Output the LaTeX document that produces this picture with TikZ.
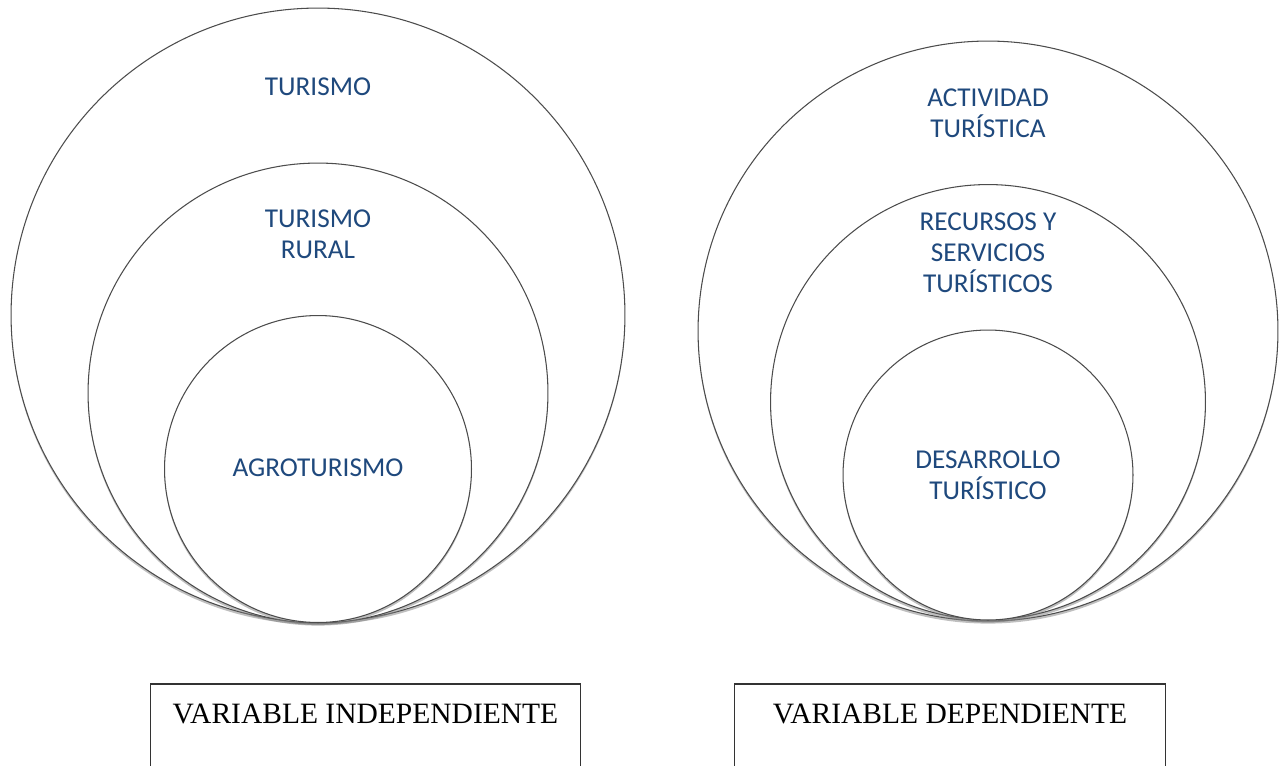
\documentclass[tikz,border=0pt]{standalone}
\usepackage{fontspec}
\setmainfont{Liberation Serif}
\newfontfamily\calibri{Carlito}
\usepackage{xcolor}
\usetikzlibrary{shapes, shadows, positioning}

\definecolor{txtblue}{RGB}{31,73,125}

\tikzset{
    ring/.style={draw=black!70, line width=0.6pt, circle, fill=white, inner sep=0pt,
        drop shadow={shadow xshift=0pt, shadow yshift=-1.5pt, opacity=0.5}},
    lbl/.style={font=\calibri\fontsize{15.5}{17.5}\selectfont, text=txtblue, align=center},
    varbox/.style={draw=black!80, line width=0.6pt, inner sep=0pt, minimum width=8.62cm,
        text height=0.78cm, text depth=1.3cm, font=\fontsize{16.8}{19}\selectfont}
}

\begin{document}
\begin{tikzpicture}[x=0.02cm, y=-0.02cm]
                \useasboundingbox (0,0) rectangle (1284,765);

                % variable independiente
                \node [ring, minimum size=12.28cm] (tur) at (318,315) {};
                \node [ring, minimum size=9.2cm] (rural) at (318,393) {};
                \node [ring, minimum size=6.14cm] (agro) at (318,469) {};
                \node [lbl] (turT) at (318,87) {TURISMO};
                \node [lbl] (ruralT) at (318,234) {TURISMO\\RURAL};
                \node [lbl] (agroT) at (318,468) {AGROTURISMO};

                % variable dependiente
                \node [ring, minimum size=11.6cm] (act) at (988,331) {};
                \node [ring, minimum size=8.7cm] (rec) at (988,402) {};
                \node [ring, minimum size=5.8cm] (des) at (988,475) {};
                \node [lbl] (actT) at (988,113) {ACTIVIDAD\\TURÍSTICA};
                \node [lbl] (recT) at (988,253) {RECURSOS Y\\SERVICIOS\\TURÍSTICOS};
                \node [lbl] (desT) at (988,475) {DESARROLLO\\TURÍSTICO};

                \node [varbox, anchor=base] (vi) at (365.5,723) {VARIABLE INDEPENDIENTE};
                \node [varbox, anchor=base] (vd) at (950,723) {VARIABLE DEPENDIENTE};
            \end{tikzpicture}
\end{document}
